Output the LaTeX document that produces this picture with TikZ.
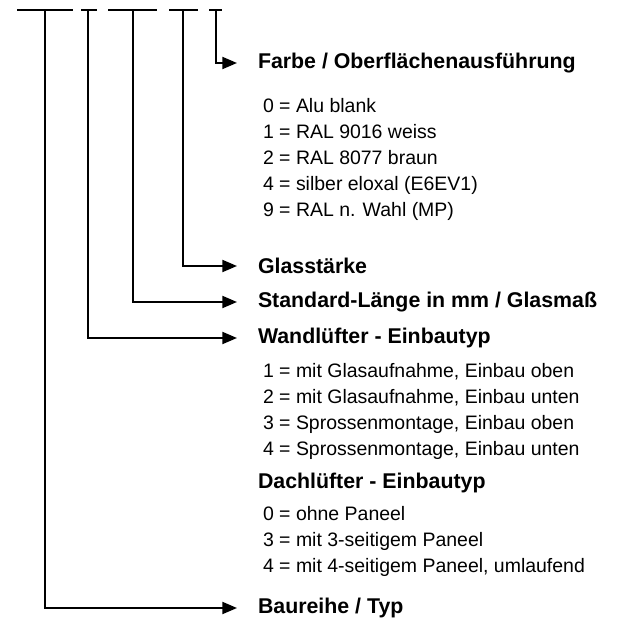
\documentclass[tikz,border=0pt]{standalone}
\usepackage{fontspec}
\setmainfont{Liberation Sans}
\usetikzlibrary{arrows.meta}
\tikzset{
  kopf/.style={anchor=west, inner sep=0pt, font=\bfseries\fontsize{16}{18}\selectfont},
  liste/.style={anchor=north west, inner sep=0pt, align=left, font=\fontsize{14.6}{19.5}\selectfont},
  pfeil/.style={-{Triangle[length=11pt,width=9pt]}, shorten >=15pt},
}
\begin{document}
\begin{tikzpicture}[x=0.75pt, y=-0.75pt, line width=1.5pt]
	\useasboundingbox (0,0) rectangle (617,624);

	% 顶部的横线
	\coordinate (s1) at (45,10);
	\coordinate (s2) at (88,10);
	\coordinate (s3) at (133,10);
	\coordinate (s4) at (183,10);
	\coordinate (s5) at (216,10);
	\draw (17,10) -- (73,10);
	\draw (81,10) -- (97,10);
	\draw (108,10) -- (157,10);
	\draw (169,10) -- (198,10);
	\draw (209,10) -- (222,10);

	% 标题
	\node [kopf] (farbe) at (257,63) {Farbe / Oberflächenausführung};
	\node [kopf] (glas) at (257,266) {Glasstärke};
	\node [kopf] (laenge) at (257,302) {Standard-Länge in mm / Glasmaß};
	\node [kopf] (wand) at (257,338) {Wandlüfter - Einbautyp};
	\node [kopf] (dach) at (257,483) {Dachlüfter - Einbautyp};
	\node [kopf] (baureihe) at (257,608) {Baureihe / Typ};

	% 列表
	\node [liste] (farbeListe) at (262,97) {0 = Alu blank\\1 = RAL 9016 weiss\\2 = RAL 8077 braun\\4 = silber eloxal (E6EV1)\\9 = RAL n. Wahl (MP)};
	\node [liste] (wandListe) at (262,362) {1 = mit Glasaufnahme, Einbau oben\\2 = mit Glasaufnahme, Einbau unten\\3 = Sprossenmontage, Einbau oben\\4 = Sprossenmontage, Einbau unten};
	\node [liste] (dachListe) at (262,505) {0 = ohne Paneel\\3 = mit 3-seitigem Paneel\\4 = mit 4-seitigem Paneel, umlaufend};

	% 箭头
	\draw [pfeil] (s5) |- (farbe.west);
	\draw [pfeil] (s4) |- (glas.west);
	\draw [pfeil] (s3) |- (laenge.west);
	\draw [pfeil] (s2) |- (wand.west);
	\draw [pfeil] (s1) |- (baureihe.west);

\end{tikzpicture}
\end{document}
